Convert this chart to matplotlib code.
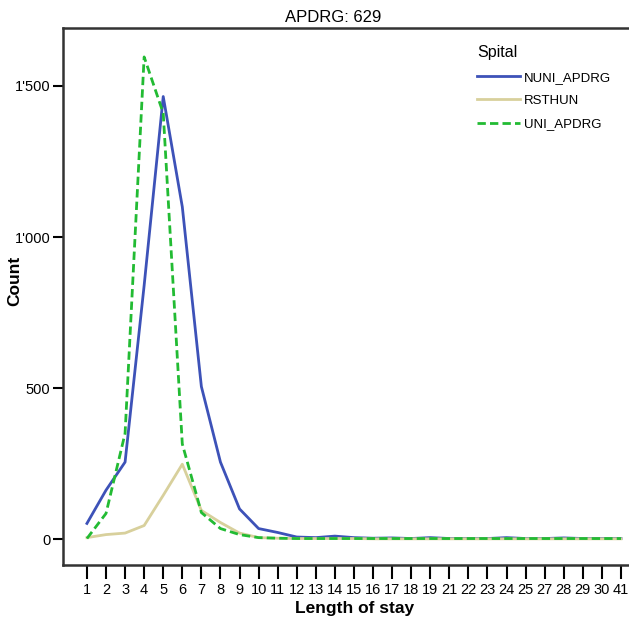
import matplotlib
matplotlib.use("Agg")
import matplotlib.pyplot as plt
from matplotlib.ticker import FuncFormatter

plt.rcParams['font.family'] = ['Liberation Sans', 'DejaVu Sans']

# length of stay categories (as shown on the axis)
los = [1, 2, 3, 4, 5, 6, 7, 8, 9, 10, 11, 12, 13, 14, 15, 16, 17, 18, 19,
       21, 22, 23, 24, 25, 27, 28, 29, 30, 41]

nuni_apdrg = [52, 162, 255, 840, 1465, 1100, 505, 255, 100, 35, 22, 7, 5, 10,
              5, 3, 4, 2, 5, 2, 2, 2, 5, 2, 2, 4, 2, 2, 2]
rsthun = [5, 15, 20, 45, 145, 248, 95, 55, 20, 5, 3, 2, 2, 2,
          2, 1, 1, 1, 1, 1, 1, 1, 1, 1, 1, 1, 1, 1, 1]
uni_apdrg = [2, 85, 350, 1596, 1410, 315, 88, 35, 15, 5, 3, 2, 2, 2,
             2, 2, 2, 2, 2, 2, 2, 2, 2, 2, 2, 2, 2, 2, 2]

fig = plt.figure(figsize=(6.29, 6.21), dpi=100)
ax = fig.add_axes([0.1, 0.09, 0.9, 0.865])

x = list(range(len(los)))
ax.plot(x, nuni_apdrg, color='#3d52b8', lw=2, label='NUNI_APDRG')
ax.plot(x, rsthun, color='#d8d09c', lw=2, label='RSTHUN')
ax.plot(x, uni_apdrg, color='#22bb33', lw=2, ls=(0, (3, 1.5)), label='UNI_APDRG')

ax.set_xlim(-1.26, 28.42)
ax.set_ylim(-86, 1692)
ax.set_xticks(x)
ax.set_xticklabels([str(v) for v in los], fontsize=10.5)
ax.set_yticks([0, 500, 1000, 1500])
ax.yaxis.set_major_formatter(FuncFormatter(lambda v, p: f"{int(v):,}".replace(",", "'")))
ax.tick_params(axis='y', labelsize=10.5, length=7, width=1.5, direction='out', pad=2)
ax.tick_params(axis='x', length=10, width=1.5, direction='out', pad=3)

for s in ['left', 'top', 'bottom']:
    ax.spines[s].set_linewidth(1.8)
    ax.spines[s].set_color('#333333')
ax.spines['right'].set_visible(False)

ax.set_xlabel('Length of stay', fontsize=12.5, fontweight='bold')
ax.set_ylabel('Count', fontsize=12.5, fontweight='bold')
ax.xaxis.set_label_coords(0.515, -0.066)
ax.yaxis.set_label_coords(-0.072, 0.53)
fig.text(333 / 629, 1 - 17 / 621, 'APDRG: 629', ha='center', va='center', fontsize=12)

leg = ax.legend(title='Spital', loc='upper right', bbox_to_anchor=(0.99, 0.99),
                frameon=False, fontsize=9.5, title_fontsize=11.5,
                handlelength=3.3, handletextpad=0.3, labelspacing=0.85)
leg._legend_box.align = 'left'

fig.savefig('out.png', dpi=100)
